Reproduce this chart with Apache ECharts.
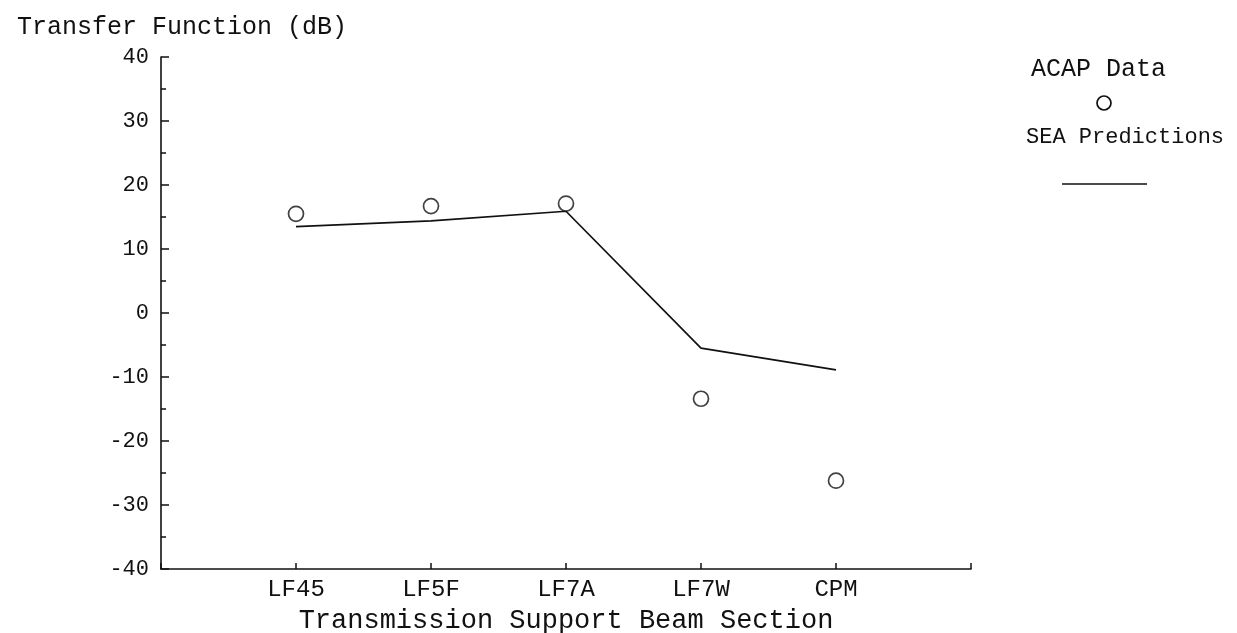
<!DOCTYPE html>
<html>
<head>
<meta charset="utf-8">
<script src="https://cdn.jsdelivr.net/npm/echarts@6/dist/echarts.min.js"></script>
<style>
  html, body { margin: 0; padding: 0; background: #fff; }
  #chart { width: 1237px; height: 633px; }
</style>
</head>
<body>
<div id="chart"></div>
<script>
// ---- data ----
var categories = ['LF45', 'LF5F', 'LF7A', 'LF7W', 'CPM'];
var acapData = [15.5, 16.7, 17.1, -13.4, -26.2];
var seaPredictions = [13.5, 14.4, 15.9, -5.5, -8.9];
var yTicks = [-40, -30, -20, -10, 0, 10, 20, 30, 40];

var FONT = '"Liberation Mono", "DejaVu Sans Mono", monospace';
var INK = '#111';

var acapPoints = acapData.map(function (v, i) { return [i + 1, v]; });
var seaPoints = seaPredictions.map(function (v, i) { return [i + 1, v]; });

var chart = echarts.init(document.getElementById('chart'));
chart.setOption({
  backgroundColor: '#fff',
  animation: false,
  title: {
    text: 'Transfer Function (dB)',
    left: 12, top: 10,
    textStyle: { fontFamily: FONT, fontSize: 25, fontWeight: 'normal', color: INK }
  },
  grid: { left: 161, right: 266, top: 57, bottom: 64, containLabel: false, outerBoundsMode: 'none' },
  xAxis: {
    type: 'value', min: 0, max: categories.length + 1, interval: 1,
    name: 'Transmission Support Beam Section',
    nameLocation: 'middle', nameGap: 34,
    nameTextStyle: { fontFamily: FONT, fontSize: 27, color: INK },
    axisLine: { onZero: false, lineStyle: { color: INK, width: 1.6 } },
    axisTick: { inside: true, length: 6, lineStyle: { color: INK, width: 1.5 } },
    axisLabel: {
      margin: 9, fontFamily: FONT, fontSize: 24, color: INK,
      formatter: function (v) { return categories[v - 1] || ''; }
    },
    splitLine: { show: false }
  },
  yAxis: {
    type: 'value', min: yTicks[0], max: yTicks[yTicks.length - 1], interval: 10,
    axisLine: { show: true, onZero: false, lineStyle: { color: INK, width: 1.6 } },
    axisTick: { show: true, inside: true, length: 8, lineStyle: { color: INK, width: 1.5 } },
    minorTick: { show: true, splitNumber: 2, length: 5, lineStyle: { color: INK, width: 1.5 } },
    axisLabel: { margin: 12, fontFamily: FONT, fontSize: 22, color: INK },
    splitLine: { show: false }
  },
  series: [
    {
      name: 'SEA Predictions', type: 'line', data: seaPoints,
      showSymbol: false, symbol: 'none',
      lineStyle: { color: INK, width: 1.7 }
    },
    {
      name: 'ACAP Data', type: 'scatter', data: acapPoints,
      symbol: 'circle', symbolSize: 15,
      itemStyle: { color: '#fff', borderColor: INK, borderWidth: 1.7 },
      z: 3
    }
  ],
  graphic: [
    { type: 'text', left: 1031, top: 57,
      style: { text: 'ACAP Data', font: '25px ' + FONT, fill: INK } },
    { type: 'circle', shape: { cx: 1104, cy: 103, r: 7 },
      style: { fill: '#fff', stroke: INK, lineWidth: 1.7 } },
    { type: 'text', left: 1026, top: 126,
      style: { text: 'SEA Predictions', font: '22px ' + FONT, fill: INK } },
    { type: 'line', shape: { x1: 1062, y1: 184, x2: 1147, y2: 184 },
      style: { stroke: INK, lineWidth: 1.7 } }
  ]
});
</script>
</body>
</html>
